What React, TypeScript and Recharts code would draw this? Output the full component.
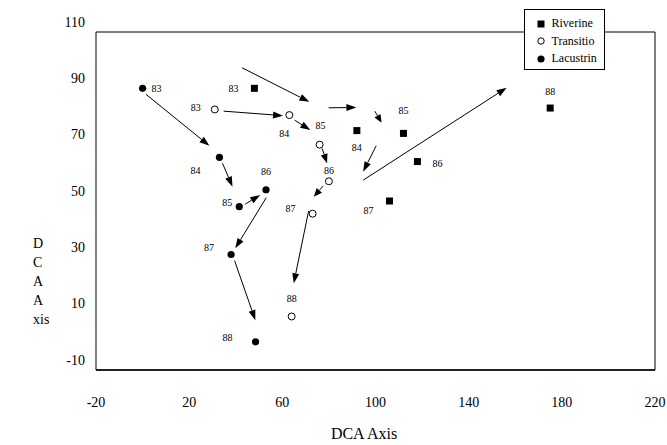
import React from 'react';
import {
  ScatterChart,
  Scatter,
  XAxis,
  YAxis,
  ReferenceArea,
  ReferenceLine,
  Legend,
} from 'recharts';

const years = ['83', '84', '85', '86', '87', '88'];
const seriesNames = ['Riverine', 'Transitio', 'Lacustrin'];

const riverineX = [48, 92, 112, 118, 106, 175];
const riverineY = [90, 75, 74, 64, 50, 83];
const transitioX = [31, 63, 76, 80, 73, 64];
const transitioY = [82.5, 80.5, 70, 57, 45.5, 9];
const lacustrinX = [0, 33, 41.5, 53, 38, 48.5];
const lacustrinY = [90, 65.5, 48, 54, 31, 0];

// arrows: [xStart, yStart, xEnd, yEnd] in data units
const riverineArrows = [
  [42.7, 97.3, 71.6, 85.2],
  [79.9, 83.1, 91.8, 83.2],
  [99.7, 81.9, 102.6, 77.8],
  [100.3, 69.6, 94.7, 60.4],
  [94.7, 57.4, 156.3, 90.2],
];
const transitioArrows = [
  [34.8, 81.9, 60.3, 80.3],
  [65.3, 78.7, 72, 75.2],
  [77.1, 68.7, 79.2, 63.4],
  [77.5, 55.3, 73.5, 51.5],
  [71.3, 46.5, 64.9, 20.8],
];
const lacustrinArrows = [
  [1.4, 87.9, 28.7, 69.6],
  [34.3, 63.4, 38.6, 55.1],
  [44.1, 48.9, 50.5, 52.1],
  [53.1, 51.2, 39.8, 33.2],
  [39.5, 28.8, 48.4, 7.7],
];

const xTicks = [-20, 20, 60, 100, 140, 180, 220];
const yTicks = [-10, 10, 30, 50, 70, 90, 110];

// where each year label sits relative to its marker (px)
const riverineLabelOffset = [[-21, 0], [0, 17], [0, -23], [20, 2], [-21, 9], [0, -17]];
const transitioLabelOffset = [[-19, -2], [-5, 18], [1, -19], [0, -11], [-22, -5], [0, -18]];
const lacustrinLabelOffset = [[14, 0], [-24, 13], [-12, -4], [0, -18], [-22, -7], [-28, -4]];

const FONT = '"Liberation Serif", "Times New Roman", serif';

const toPoints = (xs: number[], ys: number[]) =>
  years.map((year, i) => ({ x: xs[i], y: ys[i], year }));

const riverine = toPoints(riverineX, riverineY);
const transitio = toPoints(transitioX, transitioY);
const lacustrin = toPoints(lacustrinX, lacustrinY);

function yearLabel(cx: number, cy: number, year: string, offsets: number[][]) {
  const [dx, dy] = offsets[years.indexOf(year)] || [0, 0];
  return (
    <text
      x={cx + dx}
      y={cy + dy}
      textAnchor="middle"
      dominantBaseline="central"
      fontSize={10}
      fontFamily={FONT}
      fill="#000"
    >
      {year}
    </text>
  );
}

const squareShape = (props: any) => (
  <g>
    <rect x={props.cx - 3.5} y={props.cy - 3.5} width={7} height={7} fill="#000" />
    {yearLabel(props.cx, props.cy, props.payload.year, riverineLabelOffset)}
  </g>
);

const openShape = (props: any) => (
  <g>
    <circle cx={props.cx} cy={props.cy} r={3.5} fill="#fff" stroke="#000" strokeWidth={1} />
    {yearLabel(props.cx, props.cy, props.payload.year, transitioLabelOffset)}
  </g>
);

const filledShape = (props: any) => (
  <g>
    <circle cx={props.cx} cy={props.cy} r={3.6} fill="#000" />
    {yearLabel(props.cx, props.cy, props.payload.year, lacustrinLabelOffset)}
  </g>
);

const arrowShape = (p: any) => {
  const { x1, y1, x2, y2 } = p;
  const dx = x2 - x1;
  const dy = y2 - y1;
  const len = Math.hypot(dx, dy) || 1;
  const ux = dx / len;
  const uy = dy / len;
  const hl = Math.min(10, len * 0.6);
  const hw = 3.5;
  const bx = x2 - ux * hl;
  const by = y2 - uy * hl;
  return (
    <g>
      <line x1={x1} y1={y1} x2={bx} y2={by} stroke="#000" strokeWidth={1} />
      <polygon
        points={`${x2},${y2} ${bx - uy * hw},${by + ux * hw} ${bx + uy * hw},${by - ux * hw}`}
        fill="#000"
      />
    </g>
  );
};

const XTick = (props: any) => (
  <text x={props.x} y={props.y + 35} textAnchor="middle" fontSize={14} fontFamily={FONT} fill="#000">
    {props.payload.value}
  </text>
);

const YTick = (props: any) => (
  <text x={props.x - 9} y={props.y - 5.5} textAnchor="end" fontSize={14} fontFamily={FONT} fill="#000">
    {props.payload.value}
  </text>
);

const XTitle = (props: any) => {
  const vb = props.viewBox;
  return (
    <text
      x={vb.x + vb.width / 2 - 11.5}
      y={vb.y + 69}
      textAnchor="middle"
      fontSize={16}
      fontFamily={FONT}
      fill="#000"
    >
      DCA Axis
    </text>
  );
};

const YTitle = (props: any) => {
  const vb = props.viewBox;
  const parts = ['D', 'C', 'A', 'A', 'xis'];
  return (
    <text fontSize={14} fontFamily={FONT} fill="#000">
      {parts.map((s, i) => (
        <tspan key={i} x={vb.x + 33} y={vb.y + 216 + i * 19}>
          {s}
        </tspan>
      ))}
    </text>
  );
};

const legendMarker = (name: string) => {
  if (name === 'Riverine') return <rect x={0.5} y={0.5} width={7} height={7} fill="#000" />;
  if (name === 'Transitio') return <circle cx={4} cy={4} r={3.2} fill="#fff" stroke="#000" />;
  return <circle cx={4} cy={4} r={3.6} fill="#000" />;
};

const LegendBox = () => (
  <div
    style={{
      boxSizing: 'border-box',
      width: 81,
      height: 61,
      border: '1px solid #000',
      background: '#fff',
      paddingTop: 5,
      paddingLeft: 12,
      fontFamily: FONT,
      fontSize: 12,
      color: '#000',
    }}
  >
    {seriesNames.map((name) => (
      <div key={name} style={{ height: 17.5, lineHeight: '17.5px', display: 'flex', alignItems: 'center' }}>
        <svg width={8} height={8} style={{ marginRight: 6.5, flex: 'none' }}>
          {legendMarker(name)}
        </svg>
        <span>{name}</span>
      </div>
    ))}
  </div>
);

const arrowLines = (arrows: number[][], key: string) =>
  arrows.map((a, i) => (
    <ReferenceLine
      key={`${key}-${i}`}
      segment={[
        { x: a[0], y: a[1] },
        { x: a[2], y: a[3] },
      ]}
      shape={arrowShape}
      ifOverflow="visible"
    />
  ));

export default function App() {
  return (
    <div style={{ position: 'absolute', left: 0, top: 0, background: '#fff' }}>
      <ScatterChart width={667} height={445} margin={{ top: 32, right: 12, left: 0, bottom: 0 }}>
        <XAxis
          type="number"
          dataKey="x"
          domain={[-20, 220]}
          ticks={xTicks}
          height={75}
          axisLine={{ stroke: '#000', strokeWidth: 1.6 }}
          tickLine={false}
          tickSize={0}
          tick={<XTick />}
          label={XTitle}
        />
        <YAxis
          type="number"
          dataKey="y"
          domain={[-10, 110]}
          ticks={yTicks}
          width={96}
          axisLine={false}
          tickLine={false}
          tickSize={0}
          tick={<YTick />}
          label={YTitle}
        />
        <YAxis
          yAxisId="r"
          orientation="right"
          mirror
          type="number"
          domain={[-10, 110]}
          ticks={yTicks}
          axisLine={false}
          tickSize={3}
          tickLine={{ stroke: '#000' }}
          tick={() => <g />}
        />
        <ReferenceArea x1={-20} x2={220} y1={-10} y2={110} fill="none" stroke="#000" strokeWidth={1} fillOpacity={0} />
        {arrowLines(riverineArrows, 'r')}
        {arrowLines(transitioArrows, 't')}
        {arrowLines(lacustrinArrows, 'l')}
        <Scatter name="Riverine" data={riverine} shape={squareShape} isAnimationActive={false} />
        <Scatter name="Transitio" data={transitio} shape={openShape} isAnimationActive={false} />
        <Scatter name="Lacustrin" data={lacustrin} shape={filledShape} isAnimationActive={false} />
        <Legend
          layout="vertical"
          align="center"
          verticalAlign="middle"
          content={<LegendBox />}
          wrapperStyle={{ left: 524, top: 9, width: 81, height: 61 }}
        />
      </ScatterChart>
    </div>
  );
}
